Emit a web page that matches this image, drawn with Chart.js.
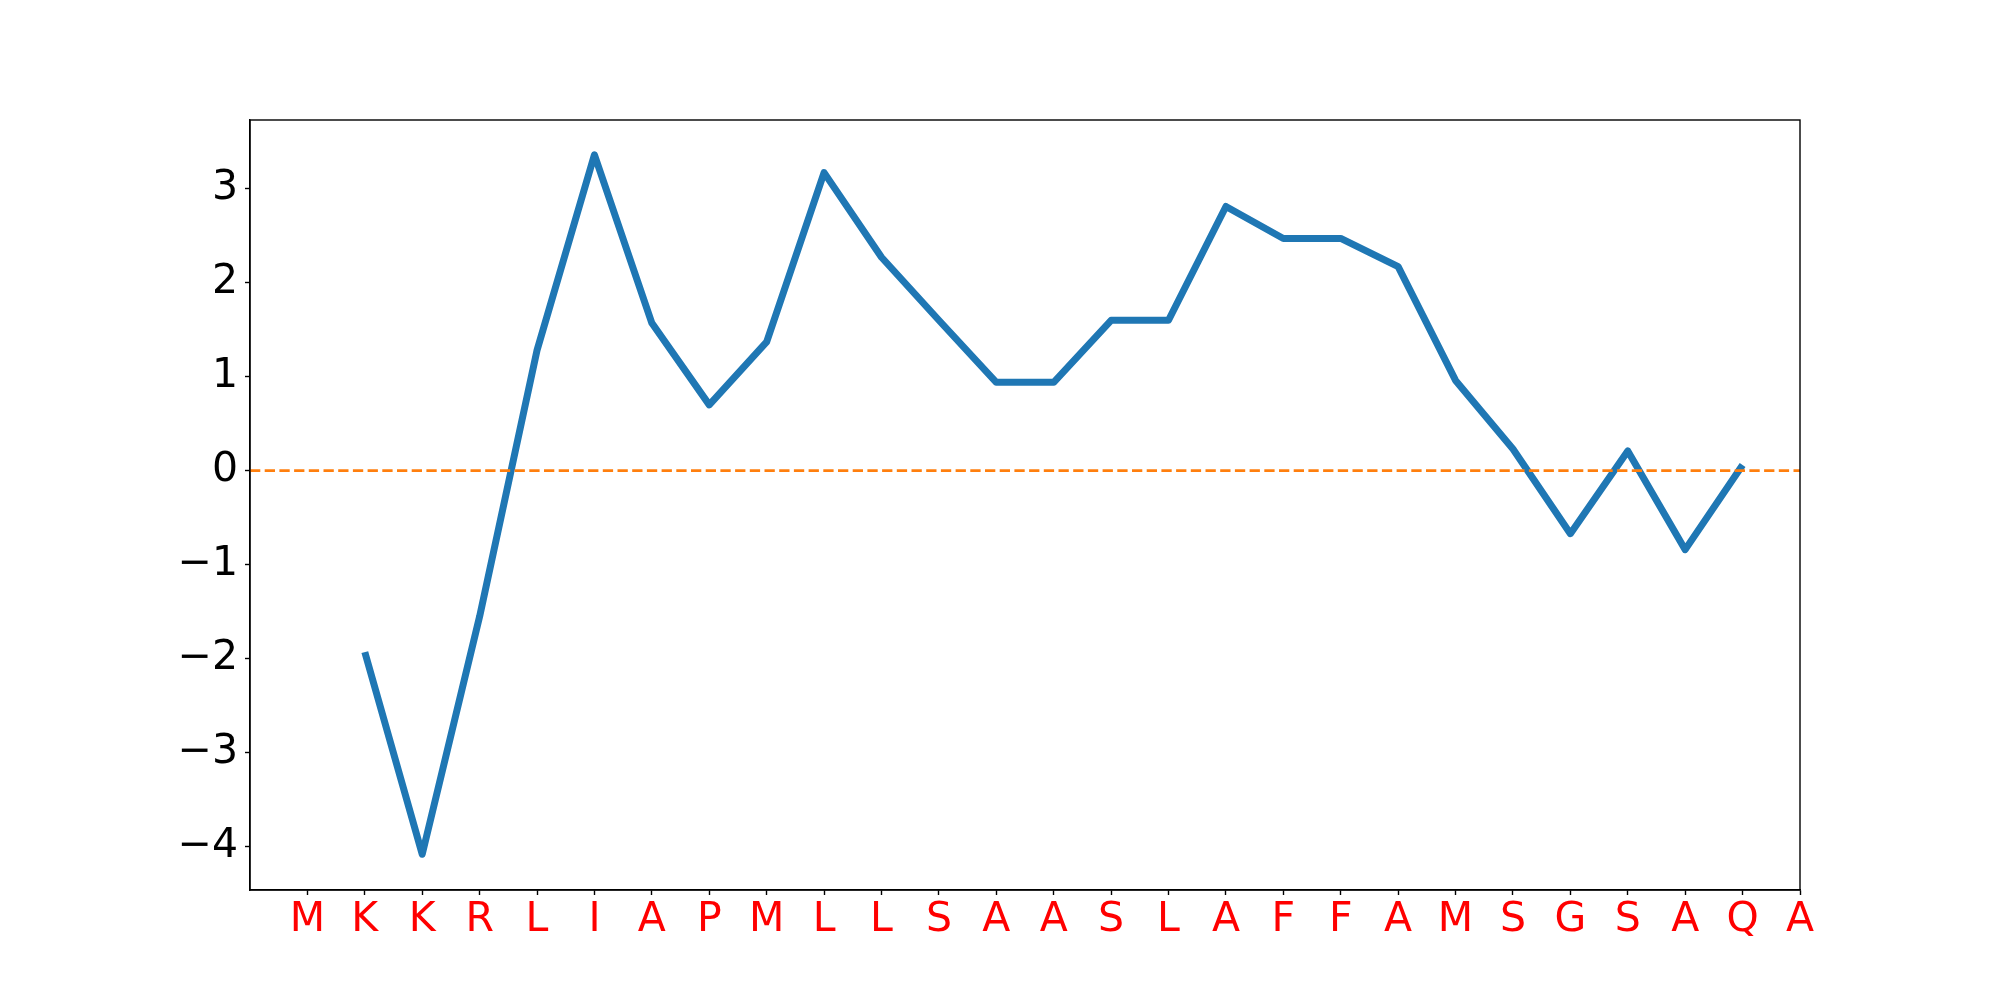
<!DOCTYPE html>
<html>
<head>
<meta charset="utf-8">
<script src="https://cdn.jsdelivr.net/npm/chart.js@4/dist/chart.umd.min.js"></script>
<style>
  html, body { margin: 0; padding: 0; background: #fff; }
  canvas { display: block; }
</style>
</head>
<body>
<canvas id="profileChart" width="2000" height="1000"></canvas>
<script>
// residue labels along the x axis (positions 1..27)
const residues = ['M','K','K','R','L','I','A','P','M','L','L','S','A','A','S','L','A','F','F','A','M','S','G','S','A','Q','A'];

// window score for each residue, null where no value is drawn
const scores = [null, -1.93, -4.08, -1.55, 1.28, 3.36, 1.57, 0.70, 1.37, 3.17, 2.27, 1.60, 0.94, 0.94, 1.60, 1.60, 2.81, 2.47, 2.47, 2.17, 0.96, 0.23, -0.67, 0.21, -0.84, 0.06, null];

const yTicks = [-4, -3, -2, -1, 0, 1, 2, 3];
const xMin = 0, xMax = residues.length;
const yMin = -4.46, yMax = 3.73;

document.addEventListener('DOMContentLoaded', function () {

    const points = scores.map((v, i) => ({ x: i + 1, y: v }));
    const baseline = [{ x: xMin, y: 0 }, { x: xMax, y: 0 }];

    // matplotlib-style box around the plot area
    const frame = {
        id: 'frame',
        afterDatasetsDraw(chart) {
            const a = chart.chartArea, c = chart.ctx;
            c.save();
            c.strokeStyle = '#000';
            c.lineWidth = 1.4;
            c.strokeRect(a.left, a.top, a.right - a.left, a.bottom - a.top);
            c.restore();
        }
    };

    const ctx = document.getElementById('profileChart').getContext('2d');
    new Chart(ctx, {
        type: 'line',
        data: {
            datasets: [{
                data: points,
                borderColor: '#1f77b4',
                borderWidth: 7,
                borderJoinStyle: 'round',
                borderCapStyle: 'butt',
                pointRadius: 0,
                fill: false,
                spanGaps: false,
                order: 1
            }, {
                data: baseline,
                borderColor: '#ff7f0e',
                borderWidth: 2.7,
                borderDash: [10.3, 4.4],
                pointRadius: 0,
                fill: false,
                order: 0
            }]
        },
        plugins: [frame],
        options: {
            responsive: false,
            animation: false,
            devicePixelRatio: 1,
            layout: { padding: { left: 0, right: 200, top: 120, bottom: 0 } },
            plugins: {
                legend: { display: false },
                tooltip: { enabled: false }
            },
            scales: {
                x: {
                    type: 'linear',
                    min: xMin,
                    max: xMax,
                    afterFit: function (scale) { scale.height = 110; },
                    afterBuildTicks: function (scale) {
                        scale.ticks = residues.map((r, i) => ({ value: i + 1 }));
                    },
                    grid: { drawOnChartArea: false, drawTicks: true, tickLength: 5, tickColor: '#000', tickWidth: 1.4 },
                    border: { display: true, color: '#000', width: 1.4 },
                    ticks: {
                        autoSkip: false,
                        maxRotation: 0,
                        padding: 1,
                        color: '#ff0000',
                        font: { family: 'DejaVu Sans', size: 41 },
                        callback: function (value) { return residues[value - 1] || ''; }
                    }
                },
                y: {
                    type: 'linear',
                    min: yMin,
                    max: yMax,
                    afterFit: function (scale) { scale.width = 250; },
                    afterBuildTicks: function (scale) {
                        scale.ticks = yTicks.map(v => ({ value: v }));
                    },
                    grid: { drawOnChartArea: false, drawTicks: true, tickLength: 5, tickColor: '#000', tickWidth: 1.4 },
                    border: { display: true, color: '#000', width: 1.4 },
                    ticks: {
                        padding: 7,
                        color: '#000',
                        font: { family: 'DejaVu Sans', size: 41 },
                        callback: function (value) { return String(value).replace('-', '\u2212'); }
                    }
                }
            }
        }
    });
});
</script>
</body>
</html>
